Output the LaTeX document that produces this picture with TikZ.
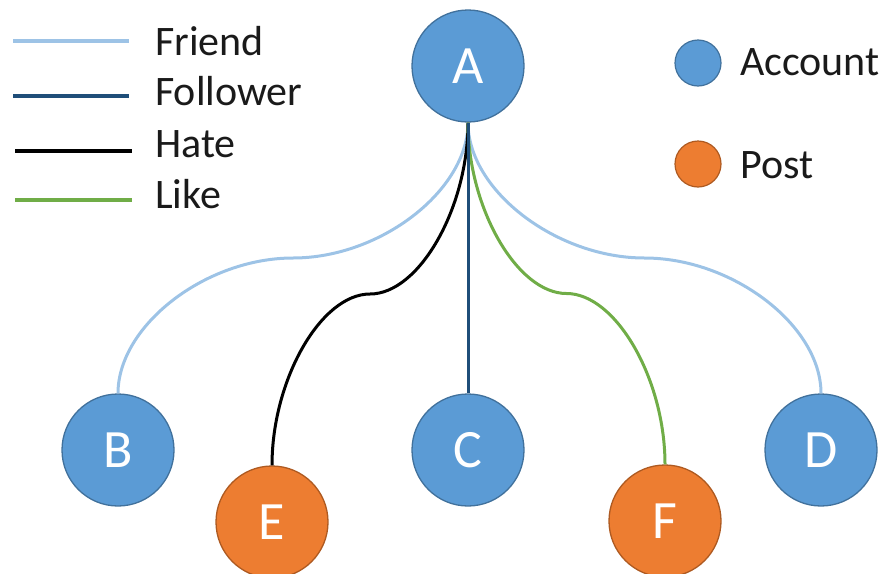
\documentclass[tikz,border=0pt]{standalone}
\usepackage{fontspec}
\setmainfont{Carlito}
\usetikzlibrary{calc}
\definecolor{accfill}{HTML}{5B9BD5}
\definecolor{accdraw}{HTML}{41719C}
\definecolor{postfill}{HTML}{ED7D31}
\definecolor{postdraw}{HTML}{AE5A21}
\definecolor{friendc}{HTML}{9DC3E6}
\definecolor{followerc}{HTML}{1F4E79}
\definecolor{likec}{HTML}{70AD47}
\definecolor{txt}{HTML}{1A1A1A}
\newcommand\curvedconn[3]{%
  \draw[#1] let \p1=(#2.south), \p2=(#3.north),
    \p3=({(\x1+\x2)/2},{(\y1+\y2)/2}) in
    (\p1) .. controls (\x1,{(\y1+\y3)/2}) and ({(\x1+\x3)/2},\y3) .. (\p3)
    .. controls ({(\x3+\x2)/2},\y3) and (\x2,{(\y3+\y2)/2}) .. (\p2);}
\begin{document}
\begin{tikzpicture}[x=1pt,y=-1pt,
  account/.style={circle,fill=accfill,draw=accdraw,line width=1.3pt,minimum size=112pt,inner sep=0pt,text=white,font=\fontsize{54}{60}\selectfont},
  post/.style={account,fill=postfill,draw=postdraw},
  legacc/.style={circle,fill=accfill,draw=accdraw,line width=1.2pt,minimum size=46pt,inner sep=0pt},
  legpost/.style={legacc,fill=postfill,draw=postdraw},
  legtext/.style={anchor=base west,inner sep=0pt,text=txt,font=\fontsize{42}{50}\selectfont},
  friend/.style={friendc,line width=3pt},
  follower/.style={followerc,line width=3pt},
  hate/.style={black,line width=3pt},
  like/.style={likec,line width=3pt},
  legline/.style={line width=3.5pt}]
\useasboundingbox (0,0) rectangle (890,573);
% legend lines
\draw[friend,legline] (13,41) -- (129,41);
\draw[follower,legline] (13,96) -- (129,96);
\draw[hate,legline] (15,151) -- (132,151);
\draw[like,legline] (15,200) -- (132,200);
\node[legtext] (lfriend) at (155,55) {Friend};
\node[legtext] (lfollower) at (155,105) {Follower};
\node[legtext] (lhate) at (155,157) {Hate};
\node[legtext] (llike) at (155,208) {Like};
% node legend
\node[legacc] (lacc) at (698,63) {};
\node[legpost] (lpost) at (698,164) {};
\node[legtext] (tacc) at (740,75) {Account};
\node[legtext] (tpost) at (740,178) {Post};
% nodes
\node[account] (A) at (468,66) {A};
\node[account] (B) at (118,450) {B};
\node[account] (C) at (468,450) {C};
\node[account] (D) at (821,450) {D};
\node[post] (E) at (272,522) {E};
\node[post] (F) at (665,521) {F};
% connectors
\curvedconn{friend}{A}{B}
\curvedconn{friend}{A}{D}
\curvedconn{hate}{A}{E}
\curvedconn{like}{A}{F}
\draw[follower] (A.south) -- (C.north);
\end{tikzpicture}
\end{document}
